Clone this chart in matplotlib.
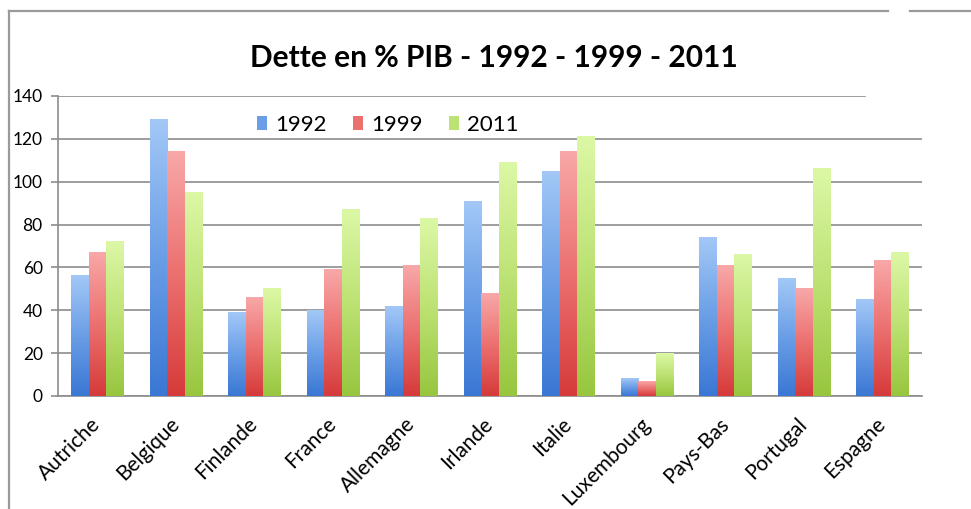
import numpy as np
import matplotlib
matplotlib.use("Agg")
import matplotlib.pyplot as plt
from matplotlib.colors import LinearSegmentedColormap
from matplotlib.lines import Line2D
from matplotlib.patches import Rectangle

plt.rcParams["font.family"] = ["Lato", "DejaVu Sans"]

countries = ["Autriche", "Belgique", "Finlande", "France", "Allemagne", "Irlande",
             "Italie", "Luxembourg", "Pays-Bas", "Portugal", "Espagne"]
years = ["1992", "1999", "2011"]
debt_1992 = [56, 129, 39, 40, 42, 91, 105, 8, 74, 55, 45]
debt_1999 = [67, 114, 46, 59, 61, 48, 114, 7, 61, 50, 63]
debt_2011 = [72, 95, 50, 87, 83, 109, 121, 20, 66, 106, 67]

# (top colour, middle colour, bottom colour) for each series
gradients = [
    ("#a3c8f7", "#6a9ee6", "#3a77d4"),
    ("#f8a8a8", "#ec7070", "#d63a3a"),
    ("#dcf8a6", "#bde274", "#97c63e"),
]

fig = plt.figure(figsize=(9.71, 5.09), dpi=100)
ax = fig.add_axes([58 / 971, 113 / 509, 864 / 971, 300 / 509])

x = np.arange(len(countries)) + 0.5
w = 0.223
series = [debt_1992, debt_1999, debt_2011]
grad = np.linspace(0, 1, 256).reshape(-1, 1)

for k, (vals, cols) in enumerate(zip(series, gradients)):
    bars = ax.bar(x + (k - 1) * w, vals, w, color=cols[1], label=years[k], zorder=2)
    cmap = LinearSegmentedColormap.from_list(f"g{k}", [cols[2], cols[1], cols[0]])
    for b in bars:
        x0, h = b.get_x(), b.get_height()
        ax.imshow(grad, extent=[x0, x0 + b.get_width(), 0, h], origin="lower",
                  aspect="auto", cmap=cmap, zorder=3, interpolation="bilinear")

ax.set_xlim(0, len(countries))
ax.set_ylim(0, 140)
ax.set_yticks(range(0, 141, 20))
ax.yaxis.grid(True, color="#8c8c8c", lw=1.2, zorder=1)
ax.set_axisbelow(True)
for s in ["top", "right"]:
    ax.spines[s].set_visible(False)
for s in ["left", "bottom"]:
    ax.spines[s].set_color("#8c8c8c")
    ax.spines[s].set_linewidth(1.2)

ax.set_xticks(x)
ax.set_xticklabels(countries, rotation=45, ha="right", va="center",
                   rotation_mode="anchor", fontsize=15)
ax.tick_params(axis="x", length=0, pad=18)
ax.tick_params(axis="y", length=5, color="#8c8c8c", width=1.2, labelsize=12.5, pad=6)

fig.text(494 / 971, 1 - 58 / 509, "Dette en % PIB - 1992 - 1999 - 2011",
         ha="center", va="center", fontsize=21.5, fontweight="bold")

ax.legend(loc="center left", bbox_to_anchor=(246 / 971, 1 - 125 / 509),
          bbox_transform=fig.transFigure, ncol=3, frameon=False, fontsize=16,
          handlelength=0.45, handleheight=0.6, handletextpad=0.35,
          columnspacing=1.2, borderpad=0)

# outer chart frame (partly cut off in the original screenshot)
frame = dict(color="#9a9a9a", lw=1.6, transform=fig.transFigure)
fig.add_artist(Line2D([9 / 971, 9 / 971], [0, 1 - 11 / 509], **frame))
fig.add_artist(Line2D([9 / 971, 888 / 971], [1 - 11 / 509] * 2, **frame))
fig.add_artist(Line2D([910 / 971, 1], [1 - 11 / 509] * 2, **frame))
fig.add_artist(Rectangle((866 / 971, 1 - 103 / 509), 70 / 971, 14 / 509,
                         transform=fig.transFigure, color="white", zorder=5))

fig.savefig("out.png", dpi=100)
